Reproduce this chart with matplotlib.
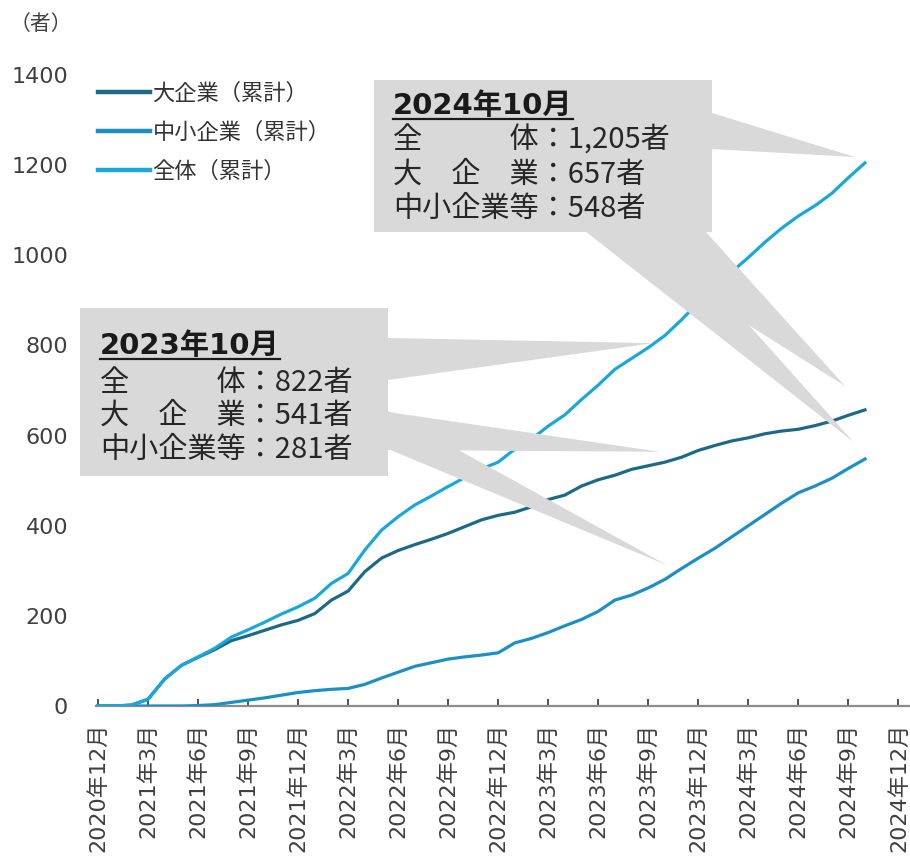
import matplotlib
matplotlib.use('Agg')
import matplotlib.pyplot as plt
from matplotlib.patches import Polygon
from matplotlib.lines import Line2D

# ---------------- data ----------------
series_names = ['大企業（累計）', '中小企業（累計）', '全体（累計）']
large = [0, 0, 2, 15, 60, 90, 108, 125, 145, 156, 168, 180, 190, 205, 235, 255,
         298, 328, 345, 358, 370, 383, 398, 413, 423, 430, 442, 458, 468, 488,
         502, 512, 525, 533, 541, 552, 567, 578, 588, 595, 604, 610, 614, 622,
         632, 645, 657]
sme = [0, 0, 0, 0, 0, 0, 1, 3, 8, 13, 18, 24, 30, 34, 37, 39,
       48, 62, 75, 88, 96, 104, 109, 113, 118, 140, 150, 163, 178, 192,
       210, 235, 246, 262, 281, 305, 328, 350, 375, 400, 425, 450, 473, 488,
       505, 527, 548]
total = [0, 0, 2, 15, 60, 90, 109, 128, 153, 169, 186, 204, 220, 239, 272, 294,
         346, 390, 420, 446, 466, 487, 507, 526, 541, 570, 592, 621, 646, 680,
         712, 747, 771, 795, 822, 857, 895, 928, 963, 995, 1029, 1060, 1087, 1110,
         1137, 1172, 1205]
tick_labels = ['2020年12月', '2021年3月', '2021年6月', '2021年9月', '2021年12月',
               '2022年3月', '2022年6月', '2022年9月', '2022年12月', '2023年3月',
               '2023年6月', '2023年9月', '2023年12月', '2024年3月', '2024年6月',
               '2024年9月', '2024年12月']
yticks = [0, 200, 400, 600, 800, 1000, 1200, 1400]

box2023_title = '2023年10月'
box2023_lines = ['全　　　体：822者', '大　企　業：541者', '中小企業等：281者']
box2024_title = '2024年10月'
box2024_lines = ['全　　　体：1,205者', '大　企　業：657者', '中小企業等：548者']

# ---------------- style ----------------
FAM = ['DejaVu Sans', 'Noto Sans CJK JP']
CJK = ['Noto Sans CJK JP', 'DejaVu Sans']
plt.rcParams['font.family'] = FAM
colors = ['#1d6a86', '#1d8fc4', '#1aa8da']
GRAY = '#d9d9d9'

W, H = 910, 861
fig = plt.figure(figsize=(W / 100, H / 100), dpi=100)
ax = fig.add_axes([96 / W, (H - 706) / H, (910 - 96) / W, (706 - 75) / H])

x = list(range(len(total)))
lines = []
for vals, c in zip([large, sme, total], colors):
    ln, = ax.plot(x, vals, color=c, lw=2.3, solid_joinstyle='round', zorder=3)
    lines.append(ln)

ax.set_xlim(-0.12, 48.7)
ax.set_ylim(0, 1400)
ax.set_xticks([3 * i for i in range(len(tick_labels))])
ax.set_xticklabels(tick_labels, rotation=90, fontsize=16, color='#404040',
                   va='top', ha='center')
ax.set_yticks(yticks)
ax.set_yticklabels([str(v) for v in yticks], fontsize=16, color='#404040')
for s in ['top', 'right', 'left']:
    ax.spines[s].set_visible(False)
ax.spines['bottom'].set_color('#8c8c8c')
ax.spines['bottom'].set_linewidth(1.6)
ax.tick_params(axis='y', length=0, pad=20)
ax.tick_params(axis='x', direction='in', length=5, width=1.2, color='#333333', pad=12)
ax.set_facecolor('none')

fig.text(10 / W, 1 - 24 / H, '（者）', fontsize=15, family=CJK, color='#404040',
         va='center', ha='left')

leg = ax.legend(lines, series_names, loc='upper left',
                bbox_to_anchor=(98 / W, 1 - 82 / H), bbox_transform=fig.transFigure,
                frameon=False, borderpad=0, borderaxespad=0,
                handlelength=2.35, handletextpad=0.1, labelspacing=0.72,
                prop={'family': CJK, 'size': 16})
for t in leg.get_texts():
    t.set_color('#333333')
for h in leg.legend_handles:
    h.set_linewidth(3.2)


def fpx(px, py):
    return (px / W, 1 - py / H)


def fdata(m, v):
    d = ax.transData.transform((m, v))
    return tuple(fig.transFigure.inverted().transform(d))


def add_poly(pts):
    fig.add_artist(Polygon(pts, closed=True, facecolor=GRAY, edgecolor='none',
                           transform=fig.transFigure, zorder=1))


# 2023 callout
add_poly([fpx(80, 308), fpx(388, 308), fpx(388, 476), fpx(80, 476)])
add_poly([fpx(388, 338), fdata(33.3, 805), fpx(388, 380)])
add_poly([fpx(388, 412), fdata(33.7, 564), fpx(388, 450)])
add_poly([fpx(388, 411), fdata(34.1, 313), fpx(388, 449)])
# 2024 callout
add_poly([fpx(374, 80), fpx(712, 80), fpx(712, 232), fpx(374, 232)])
add_poly([fpx(712, 113), fdata(45.4, 1218), fpx(712, 149)])
add_poly([fpx(600, 231), fpx(705, 231), fdata(44.8, 710)])
add_poly([fpx(585, 231), fpx(665, 231), fdata(45.3, 586)])

titles = []
for (bx, ty, ly), title, body in [((100, 346, [383, 416, 450]), box2023_title, box2023_lines),
                                  ((393, 106, [141, 175, 209]), box2024_title, box2024_lines)]:
    t = fig.text(*fpx(bx, ty), title, fontsize=21, fontweight='bold', family=FAM,
                 color='#1a1a1a', va='center', ha='left')
    titles.append(t)
    for yy, line in zip(ly, body):
        fig.text(*fpx(bx, yy), line, fontsize=21, family=CJK, color='#262626',
                 va='center', ha='left')

fig.canvas.draw()
inv = fig.transFigure.inverted()
for t in titles:
    bb = t.get_window_extent()
    (x0, y0), (x1, _) = inv.transform([(bb.x0, bb.y0 + 1), (bb.x1, bb.y0 + 1)])
    fig.add_artist(Line2D([x0, x1], [y0, y0], color='#1a1a1a', lw=1.6,
                          transform=fig.transFigure, zorder=4))

fig.savefig('out.png', dpi=100, facecolor='white')
